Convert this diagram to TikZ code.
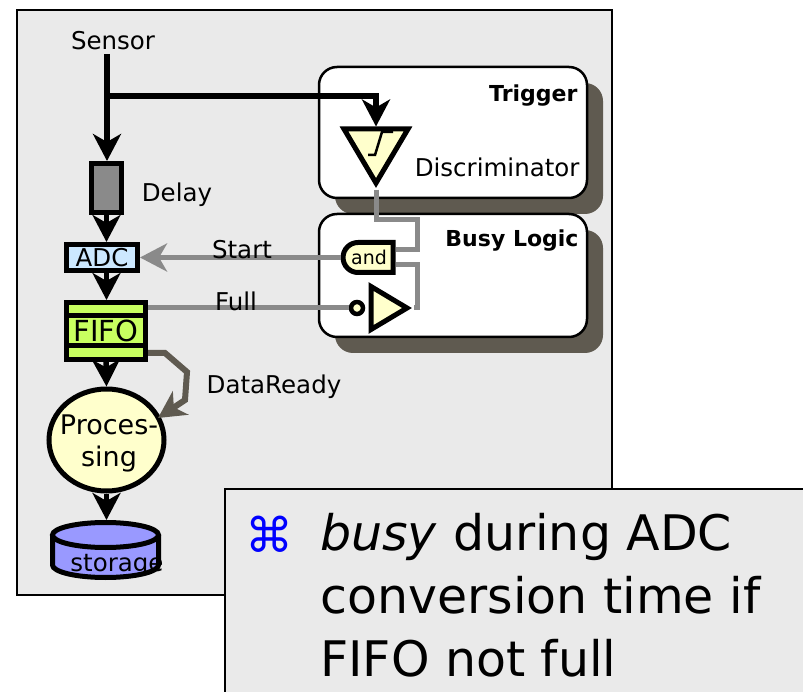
\documentclass[tikz,border=0pt]{standalone}
\usepackage{fontspec}
\setmainfont{DejaVu Sans}
\usetikzlibrary{arrows.meta, shapes.geometric, shapes.misc}
\definecolor{panelgray}{HTML}{EAEAEA}
\definecolor{shadowbrown}{HTML}{5F5A50}
\definecolor{wiregray}{HTML}{8A8A8A}
\definecolor{paleyellow}{HTML}{FFFFCC}
\definecolor{adcblue}{HTML}{CCE8FF}
\definecolor{fifogreen}{HTML}{C8FF60}
\definecolor{diskblue}{HTML}{9999FF}
\tikzset{
    bigtip/.style={-{Stealth[length=27pt,width=28pt,inset=8pt]}},
    sigline/.style={line width=5.5pt, bigtip},
    grayline/.style={line width=5pt, color=wiregray},
    label/.style={font=\fontsize{24.5}{29}\selectfont},
    boldlabel/.style={font=\fontsize{22}{27}\selectfont\bfseries},
    panelbox/.style={draw, line width=2.5pt, rectangle, fill=panelgray, inner sep=0},
    logicbox/.style={draw, line width=2.5pt, rectangle, rounded corners=18pt, fill=white, minimum width=268pt, inner sep=0},
    shadowbox/.style={rectangle, rounded corners=18pt, fill=shadowbrown, minimum width=268pt, inner sep=0},
    blockbox/.style={draw, line width=5pt, rectangle, inner sep=0},
    triabox/.style={draw, line width=5pt, fill=paleyellow, isosceles triangle, isosceles triangle stretches, inner sep=0},
    bigtext/.style={anchor=base west, inner sep=0, font=\fontsize{49}{55}\selectfont}
}
\begin{document}
\begin{tikzpicture}[x=1pt, y=-1pt]
    \useasboundingbox (0,0) rectangle (803,692);
    \node (panel) at (314.5,302.5) [panelbox, minimum width=595pt, minimum height=585pt] {};
    \node (trigshadow) at (469,148.5) [shadowbox, minimum height=131pt] {};
    \node (trigger) at (453,132.5) [logicbox, minimum height=131pt] {};
    \node (busyshadow) at (469,291.5) [shadowbox, minimum height=123pt] {};
    \node (busy) at (453,275.5) [logicbox, minimum height=123pt] {};
    \node (triglabel) at (581,96) [boldlabel, anchor=east] {Trigger};
    \node (busylabel) at (582,241) [boldlabel, anchor=east] {Busy Logic};
    \node (disclabel) at (583,167) [label, anchor=east] {Discriminator};
    \node (sensor) at (113,41) [label] {Sensor};
    \node (delay) at (106.5,188) [blockbox, fill=wiregray, minimum width=30pt, minimum height=49pt] {};
    \node (delaylabel) at (177,195) [label] {Delay};
    \node (adc) at (102,257.5) [blockbox, fill=adcblue, minimum width=71pt, minimum height=26pt, label] {ADC};
    \node (fifo) at (106,331) [blockbox, fill=fifogreen, minimum width=79pt, minimum height=57pt, font=\fontsize{29}{33}\selectfont] {FIFO};
    \draw [line width=5pt] (fifo.west |- 0,315.5) -- (fifo.east |- 0,315.5);
    \draw [line width=5pt] (fifo.west |- 0,345.5) -- (fifo.east |- 0,345.5);
    \node (proc) at (106.5,440) [draw, line width=5pt, ellipse, fill=paleyellow, minimum width=115pt, minimum height=102pt, inner sep=0] {};
    \node (proclabel) at (109,443) [align=center, font=\fontsize{27}{32}\selectfont] {Proces-\\sing};
    \coordinate (storagetop) at (105.5,520);
    \draw [line width=5pt, fill=diskblue] (52.5,535) -- (52.5,565) arc [start angle=180, end angle=360, x radius=53pt, y radius=12.5pt] -- (158.5,535);
    \draw [line width=5pt, fill=diskblue] (105.5,535) ellipse [x radius=53pt, y radius=12.5pt];
    \node (storagelabel) at (117,565) [label] {storage};
    \node (disc) at (376,126.5) [triabox, anchor=lower side, shape border rotate=-90, minimum width=64pt, minimum height=54pt] {};
    \draw [line width=2.5pt] (368,155) -- (375,155) -- (382,132) -- (393,132);
    \node (andgate) at (369,257.5) [draw, line width=5pt, rounded rectangle, rounded rectangle right arc=none, fill=paleyellow, minimum width=50pt, minimum height=30pt, inner sep=0, font=\fontsize{19}{22}\selectfont] {and};
    \node (inverter) at (368.5,308) [triabox, anchor=lower side, minimum width=43pt, minimum height=36pt] {};
    \node (bubble) at (357,308) [draw, line width=4.5pt, circle, fill=paleyellow, minimum size=12pt, inner sep=0] {};
    \coordinate (branch) at (107,96);
    \coordinate (trigcorner) at (376,96);
    \coordinate (busycorner) at (376,220);
    \coordinate (gatetop) at (417,220);
    \coordinate (gateinone) at (417,250);
    \coordinate (gateintwo) at (417,265);
    \coordinate (invout) at (417,308);
    \coordinate (fullstart) at (148,308);
    \coordinate (readyend) at (158,418);
    \draw [line width=5.5pt] (sensor.south -| branch) -- (branch);
    \draw [sigline] (branch) -- (delay.north -| branch);
    \draw [sigline] (branch) -- (trigcorner) -- (disc.lower side -| trigcorner);
    \draw [sigline] (delay.south) -- (delay.south |- adc.north);
    \draw [sigline] (delay.south |- adc.south) -- (delay.south |- fifo.north);
    \draw [sigline] (fifo.south) -- (proc.north);
    \draw [sigline] (proc.south) -- (proc.south |- storagetop);
    \draw [grayline] (disc.apex) -- (busycorner) -- (gatetop) -- (gateinone) -- (andgate.east |- gateinone);
    \draw [grayline] (andgate.east |- gateintwo) -- (gateintwo) -- (invout) -- (inverter.apex);
    \draw [grayline, bigtip] (andgate.west) -- (adc.east);
    \draw [grayline] (fullstart) -- (bubble.west);
    \draw [line width=6pt, color=shadowbrown, bigtip] (148,353) -- (165,353) -- (187,372) -- (185,400) -- (readyend);
    \node (startlabel) at (242,250) [label] {Start};
    \node (fulllabel) at (236,301) [label] {Full};
    \node (readylabel) at (274,387) [label] {DataReady};
    \node (callout) at (534,610) [panelbox, minimum width=618pt, minimum height=242pt] {};
    \node (bullet) at (269,534) [font=\fontsize{48}{52}\selectfont, color=blue] {⌘};
    \node (lineone) at (320,550) [bigtext] {\textit{busy} during ADC};
    \node (linetwo) at (320,613) [bigtext] {conversion time if};
    \node (linethree) at (320,676) [bigtext] {FIFO not full};
    \end{tikzpicture}
\end{document}
